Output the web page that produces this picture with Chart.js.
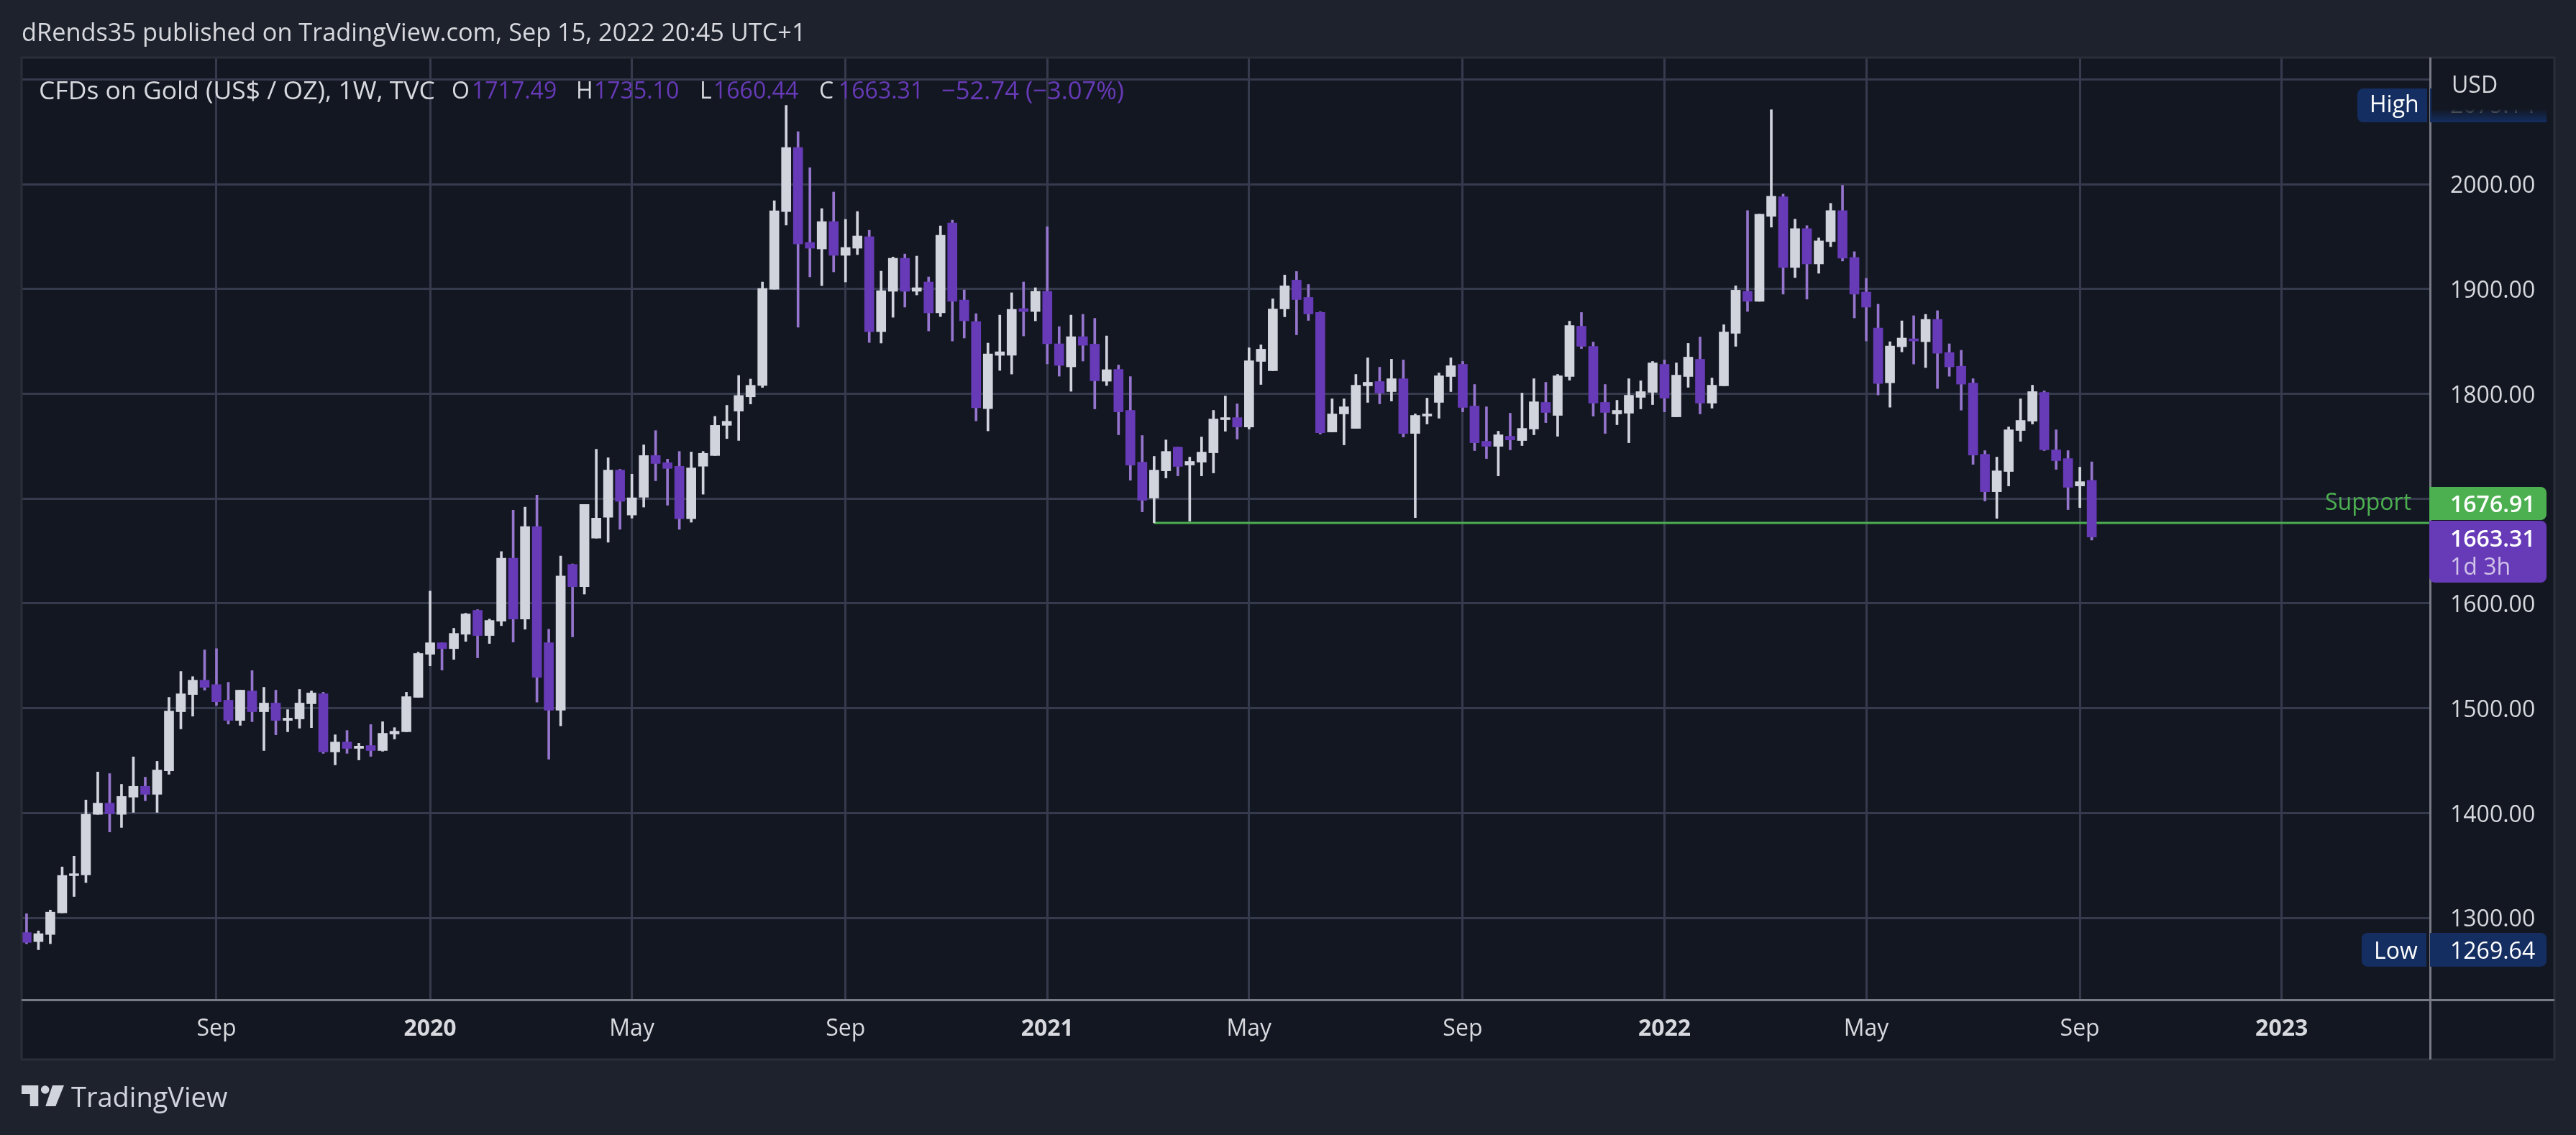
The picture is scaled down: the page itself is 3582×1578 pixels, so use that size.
<!DOCTYPE html>
<html>
<head>
<meta charset="utf-8">
<style>
html,body{margin:0;padding:0;background:#1e222d;overflow:hidden}
canvas{display:block}
</style>
<script src="https://cdn.jsdelivr.net/npm/chart.js@4"></script>
</head>
<body>
<canvas id="c" width="3582" height="1578"></canvas>
<script>
const opens=[1286,1277.4,1284.2,1304.8,1340.3,1341,1398.8,1409.5,1398.8,1415.2,
1425.5,1417.9,1440.4,1496.7,1513.1,1526.8,1522.6,1507.7,1488.4,1516.5,
1496.7,1505,1488.4,1489.8,1504.3,1513.8,1458.3,1467.8,1461.7,1464.4,
1459.7,1475.4,1477.6,1510.4,1551.5,1562.5,1556.9,1570.6,1593.4,1569.4,
1583,1643.2,1585.1,1673.3,1562.6,1498.2,1637.2,1616,1662.3,1682.2,
1727.2,1684.3,1701.3,1741.1,1734.3,1730.9,1680.9,1730.9,1741.1,1769.9,
1783.5,1797.1,1807.9,1899.8,1973.9,2035,1944.4,1938.2,1964.3,1932.1,
1938.9,1949.9,1859.3,1897.8,1929.3,1897.8,1906.7,1877.2,1962.9,1889.5,
1868.9,1785.9,1836.7,1836.7,1881.3,1878.5,1897.8,1847.7,1825.7,1854.5,
1847.4,1812,1823.3,1784.2,1734.8,1700.5,1726.5,1749.2,1732,1734.8,
1743.7,1775.3,1777.3,1768.4,1830.9,1822,1881,1908.5,1892,1877.6,
1763.6,1780.8,1767,1807.6,1811.7,1802.1,1814.4,1762.2,1778.7,1791.8,
1816.5,1828.1,1788.3,1754.7,1749.9,1759.5,1755.4,1766.4,1791.8,1779.4,
1816.5,1864.5,1845.3,1791.8,1780.8,1781.5,1796.6,1801.4,1828.1,1778,
1816.5,1833,1791.1,1807.6,1857.7,1897.8,1888.2,1969.3,1987.9,1920.5,
1957.6,1923.9,1945.2,1974.8,1930.1,1897.1,1862.8,1810.5,1844.9,1852.5,
1849.7,1871,1839.4,1826.3,1810.3,1742.3,1706.6,1725.9,1765,1773.9,
1801.4,1746.5,1738.2,1712.1,1717.49];
const highs=[1304,1287.6,1307.5,1348.6,1358.9,1412.5,1439.2,1437.7,1427.4,1453.6,
1434.3,1449.4,1510.4,1535.1,1530.2,1555.7,1556.9,1524.8,1517.3,1535.9,
1520,1517.3,1498.7,1518,1516.5,1515.3,1474.7,1478.8,1466.6,1484.5,
1487.2,1481.5,1515.3,1553.5,1611.8,1562.5,1576.3,1590.7,1594.1,1585.1,
1649.5,1689,1691.9,1703.4,1575.4,1645.3,1637.7,1694.5,1747.1,1739,
1728,1723.3,1751.3,1764.9,1737.7,1745,1744.5,1745,1778.5,1789,
1817.5,1814.1,1906.7,1984.2,2075.14,2050,2015.8,1976.7,1992.5,1966.4,
1973.9,1956.1,1917,1930.5,1933.4,1931.4,1911.5,1960.2,1965.7,1899.1,
1876.5,1848.4,1875.1,1896.4,1906.7,1901.2,1959.5,1864.1,1875.1,1875.8,
1872,1855.2,1827.5,1816.5,1760.2,1740.3,1756,1749.2,1739.6,1758.8,
1784.2,1797.9,1790.4,1843.9,1846.7,1890.6,1913.3,1916.7,1904.3,1878.3,
1795.2,1795.2,1818.5,1834.3,1825.4,1833,1832.3,1780.8,1795.9,1819.9,
1834.3,1830.9,1808.9,1787.6,1764.3,1781.5,1800.7,1814.4,1811,1818.5,
1869.3,1877.6,1849.4,1808.9,1793.8,1814.4,1812.4,1830.9,1832.3,1829.5,
1848.1,1854.2,1815.1,1865.9,1903,1974.8,1971.4,2071,1990.6,1966.6,
1960.4,1948.7,1981.7,1998.9,1935.6,1910.2,1885.5,1849.7,1869.6,1874.5,
1875.8,1879.3,1847.7,1841.5,1814.4,1745.8,1739.6,1768.4,1795.2,1808.2,
1802.7,1765.7,1745.8,1730,1735.1];
const lows=[1275.4,1269.64,1275.4,1304.8,1320.4,1333.7,1398.8,1382,1386.3,1400.7,
1411.8,1400.7,1437,1480.3,1492.5,1517.3,1502.8,1484.9,1483.7,1487.2,
1459.7,1474.7,1477.6,1481,1481.5,1457,1446,1457,1450.7,1454.1,
1459,1470.7,1477.6,1510.4,1540.5,1536.4,1546.6,1563.8,1548.1,1561.8,
1578.8,1563.1,1575.4,1505.8,1451.4,1483.2,1568.1,1608.9,1662.3,1658.4,
1670.7,1681.4,1691.9,1717,1693.7,1670.7,1677.5,1704.2,1741.1,1757.3,
1755.5,1790.3,1806,1899.8,1960.9,1863.5,1911.5,1903.2,1916.3,1906.7,
1932.8,1849,1848.4,1873,1882.7,1894.3,1860,1873.7,1850.4,1853.2,
1774.2,1764.6,1822.3,1818.8,1855.2,1869.6,1828.5,1816.8,1802.4,1831.2,
1785.6,1807.9,1760.9,1717.6,1687.4,1676.91,1719.7,1721.7,1678.5,1721.7,
1724.5,1764.3,1756.8,1766.4,1808.9,1822,1873.5,1856.3,1870,1761.6,
1763.6,1751.3,1767,1791.8,1790.4,1793.1,1758.8,1681.9,1771.2,1776.7,
1802.1,1782.8,1745.8,1738.2,1721.7,1746.5,1750.6,1760.9,1772.5,1759.5,
1813,1843.2,1778.7,1762.2,1770.5,1753.3,1785.6,1789.7,1782.8,1778,
1806.2,1780.8,1786.3,1807.6,1845.3,1878.6,1888.2,1959,1895.1,1910.9,
1890.3,1915,1940.4,1926.7,1872.4,1850.4,1798.9,1787.2,1840,1828.4,
1825,1805,1816.7,1784.4,1732.7,1697.7,1681.2,1712.1,1754.7,1771.2,
1745.8,1727.9,1689.5,1691.5,1660.44];
const closes=[1276.6,1285,1305.5,1340.5,1342.2,1398.8,1409.5,1399.3,1415.9,1425.5,
1417.9,1441.1,1497.4,1513.8,1526.8,1520,1506.2,1488.4,1517.3,1496.7,
1505,1488.4,1490.6,1505,1514.6,1458.3,1467.8,1461.7,1463.9,1459.7,
1476.1,1478.1,1511.1,1552.3,1562.5,1556.9,1571.4,1590,1569.4,1583.8,
1643.2,1585.1,1673.3,1529.6,1498.2,1626.2,1616,1694.5,1681.4,1727.2,
1697.4,1700.8,1741.1,1733.5,1728.8,1680.9,1729.3,1743.2,1769.9,1773.8,
1798.4,1808.1,1900.5,1974.6,2035,1943,1938.9,1964.3,1932.1,1939.6,
1950.6,1859.3,1898.4,1929.3,1897.8,1901.2,1877.2,1951.3,1888.2,1869.6,
1786.6,1838.1,1840.1,1880.6,1878.5,1897.8,1847.7,1827.1,1854.5,1846.3,
1812.4,1823,1782.8,1732,1698.4,1727.2,1745,1730.7,1735.5,1744.4,
1776,1777.3,1768.4,1831.6,1842.6,1881,1903,1889.9,1876.2,1762.9,
1780.8,1787.6,1808.2,1811,1800.7,1814.4,1762.2,1779.4,1780.8,1817.2,
1826.8,1787,1753.3,1749.9,1760.9,1756,1767,1792.4,1782.2,1817.2,
1865.2,1845.3,1791.1,1782.2,1784.2,1798.6,1802.1,1829.5,1795.9,1817.8,
1835,1791.1,1808.2,1859,1898.9,1888.2,1971.4,1988.5,1920.5,1957.6,
1923.9,1945.9,1974.8,1929.4,1895.1,1882.7,1809.9,1845.6,1853.2,1850.4,
1871,1838.7,1825.7,1809.2,1741.6,1706.6,1726.5,1765.7,1774.6,1802.1,
1746.5,1736.2,1710.8,1716.2,1663.31];
const xTickIndex=[16,34,51,69,86,103,121,138,155,173,190];
const xTickLabels=["Sep","2020","May","Sep","2021","May","Sep","2022","May","Sep","2023"];
const yTickValues=[1300,1400,1500,1600,1700,1800,1900,2000,2100];
const supportPrice=1676.91, supportStartIndex=95;
const highPrice=2075.14, lowPrice=1269.64, lastPrice=1663.31;
const headerText="dRends35 published on TradingView.com, Sep 15, 2022 20:45 UTC+1";
const FONT='"Open Sans"';
const UP='#d1d4dc',DOWN='#673ab7',DOWNWICK='#9575cd',GREEN='#4caf50',NAVY='#142e61',GRID='#363a4d',AXIS='#787b86',PANE='#131722',PAGE='#1e222d',TXT='#d8d9de';
const xMin=-0.42,xMax=202.5;
const idx=opens.map((_,i)=>i);
const isUp=i=>closes[i]>=opens[i];

function rr(c,x,y,w,h,r){c.beginPath();c.roundRect(x,y,w,h,r);c.fill();}
const decor={id:'decor',
 beforeDraw(ch){const c=ch.ctx;c.save();
  c.fillStyle=PAGE;c.fillRect(0,0,3582,1578);
  c.fillStyle=PANE;c.fillRect(30,80,3522,1393);
  c.restore();},
 afterDraw(ch){const c=ch.ctx,y=ch.scales.y;c.save();
  // frame and axis lines
  c.strokeStyle='#2a2e39';c.lineWidth=3;c.strokeRect(30,80,3522,1393);
  c.fillStyle=AXIS;c.fillRect(3378,80,3,1393);c.fillRect(30,1389,3522,3);
  c.textBaseline='middle';c.textAlign='left';
  // header
  c.font='34.3px '+FONT;c.fillStyle=TXT;c.fillText(headerText,30,47);
  // legend
  const leg=[["CFDs on Gold (US$ / OZ), 1W, TVC",54,TXT,35.5],["O",628,TXT,32],["1717.49",656,DOWN,32],["H",801,TXT,32],["1735.10",826,DOWN,32],["L",973,TXT,32],["1660.44",992,DOWN,32],["C",1139,TXT,32],["1663.31",1166,DOWN,32],["\u221252.74 (\u22123.07%)",1309,DOWN,34.6]];
  leg.forEach(t=>{c.font=t[3]+'px '+FONT;c.fillStyle=t[2];c.fillText(t[0],t[1],128);});
  // Support
  c.fillStyle=GREEN;c.font='32px '+FONT;c.fillText('Support',3233,700);
  // High badge
  const hy=y.getPixelForValue(highPrice);
  c.fillStyle=NAVY;rr(c,3278,hy-23.5,97,47,[8,0,0,8]);c.fillRect(3379,hy-23.5,162,47);
  c.fillStyle='#fff';c.font='32px '+FONT;c.fillText('High',3295,hy);
  c.fillStyle=TXT;c.fillText(highPrice.toFixed(2),3407,hy+1);
  const g=c.createLinearGradient(0,123,0,170);g.addColorStop(0,PANE);g.addColorStop(0.6,PANE);g.addColorStop(1,'rgba(19,23,34,0)');
  c.fillStyle=g;c.fillRect(3381,120,165,50);
  c.fillStyle=TXT;c.fillText('USD',3409,120);
  // Low badge
  const ly=y.getPixelForValue(lowPrice);
  c.fillStyle=NAVY;rr(c,3284,ly-23.5,90,47,[8,0,0,8]);rr(c,3379,ly-23.5,162,47,[0,8,8,0]);
  c.fillStyle='#fff';c.fillText('Low',3301,ly+3);c.fillText(lowPrice.toFixed(2),3407,ly+3);
  // Support price badge
  c.fillStyle=GREEN;rr(c,3378,677,163,46,[0,8,8,0]);
  c.fillStyle='#fff';c.font='600 32px '+FONT;c.fillText(supportPrice.toFixed(2),3407,703);
  // last price badge
  c.fillStyle=DOWN;rr(c,3378,724,163,86,[0,8,8,8]);
  c.fillStyle='#fff';c.fillText(lastPrice.toFixed(2),3407,751);
  c.fillStyle='#d1c4e9';c.font='32px '+FONT;c.fillText('1d 3h',3407,790);
  // logo
  c.fillStyle=UP;
  c.beginPath();c.moveTo(30,1509);c.lineTo(53.3,1509);c.lineTo(53.3,1538);c.lineTo(41.7,1538);c.lineTo(41.7,1521);c.lineTo(30,1521);c.closePath();c.fill();
  c.beginPath();c.arc(62.7,1515,5.8,0,Math.PI*2);c.fill();
  c.beginPath();c.moveTo(73,1509);c.lineTo(89,1509);c.lineTo(77.3,1538);c.lineTo(63.3,1538);c.closePath();c.fill();
  c.font='38px '+FONT;c.textBaseline='alphabetic';c.fillText('TradingView',99,1539);
  c.restore();}
};

new Chart(document.getElementById('c'),{
 data:{datasets:[
  {type:'bar',label:'Body',order:1,grouped:false,barThickness:13,
   data:idx.map(i=>({x:i,y:[opens[i],closes[i]]})),
   backgroundColor:idx.map(i=>isUp(i)?UP:DOWN),borderWidth:0},
  {type:'bar',label:'Wick',order:2,grouped:false,barThickness:3,
   data:idx.map(i=>({x:i,y:[lows[i],highs[i]]})),
   backgroundColor:idx.map(i=>isUp(i)?UP:DOWNWICK),borderWidth:0},
  {type:'line',label:'Support',order:3,
   data:[{x:supportStartIndex,y:supportPrice},{x:xMax,y:supportPrice}],
   borderColor:GREEN,borderWidth:3,pointRadius:0,tension:0}
 ]},
 options:{
  responsive:false,animation:false,devicePixelRatio:1,
  layout:{padding:{left:30,top:80,right:30,bottom:105}},
  plugins:{legend:{display:false},tooltip:{enabled:false},title:{display:false}},
  scales:{
   x:{type:'linear',min:xMin,max:xMax,offset:false,
    afterBuildTicks(s){s.ticks=xTickIndex.map(v=>({value:v}));},
    afterFit(s){s.height=83;},
    grid:{color:GRID,lineWidth:3,drawTicks:false,offset:false},border:{display:false},
    ticks:{autoSkip:false,maxRotation:0,minRotation:0,padding:22,color:TXT,
     callback:(v)=>{const k=xTickIndex.indexOf(v);return k<0?'':xTickLabels[k];},
     font:(ctx)=>{const k=ctx.tick?xTickIndex.indexOf(ctx.tick.value):-1;return {family:FONT,size:32,weight:(k>=0&&/^\d/.test(xTickLabels[k]))?'bold':'normal'};}}},
   y:{type:'linear',position:'right',min:1221.9,max:2120.8,
    afterBuildTicks(s){s.ticks=yTickValues.map(v=>({value:v}));},
    afterFit(s){s.width=173;},
    grid:{color:GRID,lineWidth:3,drawTicks:false},border:{display:false},
    ticks:{padding:28,color:TXT,labelOffset:3,font:{family:FONT,size:32},
     callback:(v)=>v===2100?'':v.toFixed(2)}}
  }
 },
 plugins:[decor]
});
</script>
</body>
</html>
